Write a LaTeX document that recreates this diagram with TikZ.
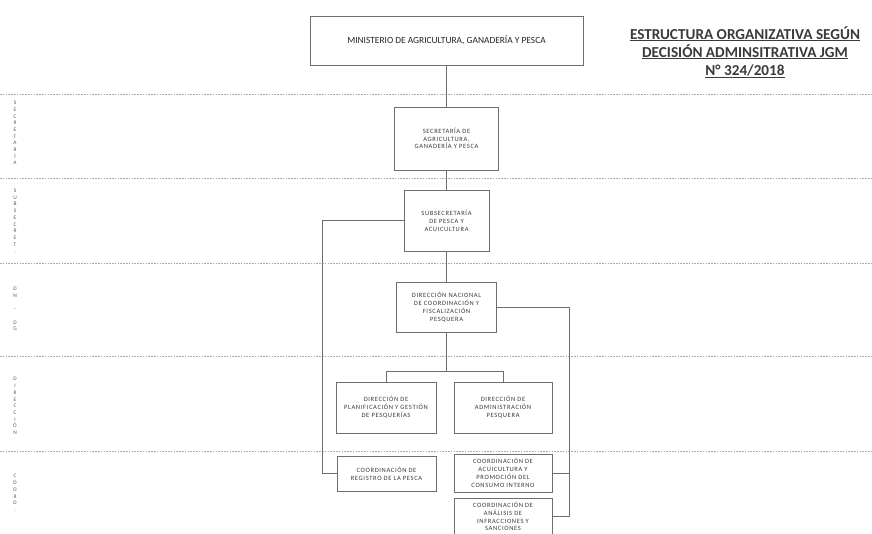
\documentclass[tikz,border=0pt]{standalone}
\usepackage{fontspec}
\setmainfont{Carlito}
\newfontfamily\boxfont[LetterSpace=10]{Carlito}
\definecolor{linegray}{HTML}{6E6E6E}
\definecolor{txtgray}{HTML}{3A3A3A}
\definecolor{sepgray}{HTML}{A8A8A8}
\begin{document}
\begin{tikzpicture}[x=1pt,y=-1pt,
  box/.style={draw=linegray, line width=0.9pt, fill=white, align=center, inner sep=1pt,
     text=txtgray, font=\boxfont\fontsize{6.5}{8.1}\selectfont},
  conn/.style={draw=linegray, line width=0.8pt},
  sepline/.style={draw=sepgray, line width=0.7pt, dash pattern=on 1.6pt off 1.2pt},
  lab/.style={align=center, text=txtgray!85, inner sep=0pt, font=\fontsize{5.4}{6.7}\selectfont}]
\useasboundingbox (0,0) rectangle (872,533);
\clip (0,0) rectangle (872,533);
% separators
\foreach \yy in {94,178,263,356,451} \draw[sepline] (0,\yy) -- (872,\yy);
% side labels
\node[lab] (l1) at (15,133) {S\\E\\C\\R\\E\\T\\A\\R\\Í\\A};
\node[lab] (l2) at (15,221) {S\\U\\B\\S\\E\\C\\R\\E\\T\\.};
\node[lab] (l3) at (15,309) {D\\N\\[6.7pt]-\\[6.7pt]D\\G};
\node[lab] (l4) at (15,406) {D\\I\\R\\E\\C\\C\\I\\Ó\\N};
\node[lab] (l5) at (15,493) {C\\O\\O\\R\\D\\.};
% title
\node[align=center, text=txtgray, font=\bfseries\fontsize{15.2}{18}\selectfont, inner sep=0pt] (title) at (745,52)
  {\underline{ESTRUCTURA ORGANIZATIVA SEGÚN}\\\underline{DECISIÓN ADMINSITRATIVA JGM}\\\underline{N° 324/2018}};
% boxes
\node[box, minimum width=273pt, minimum height=49pt, font=\fontsize{9.4}{11}\selectfont, text=black!85] (min) at (446.5,40.5) {MINISTERIO DE AGRICULTURA, GANADERÍA Y PESCA};
\node[box, minimum width=104pt, minimum height=63pt, font=\boxfont\fontsize{6.5}{7.6}\selectfont] (sec) at (446.5,138.5) {SECRETARÍA DE\\AGRICULTURA,\\GANADERÍA Y PESCA};
\node[box, minimum width=85pt, minimum height=61pt] (sub) at (446.5,220.5) {SUBSECRETARÍA\\DE PESCA Y\\ACUICULTURA};
\node[box, minimum width=100pt, minimum height=50pt] (dn) at (446.5,307) {DIRECCIÓN NACIONAL\\DE COORDINACIÓN Y\\FISCALIZACIÓN\\PESQUERA};
\node[box, minimum width=100pt, minimum height=51pt] (d1) at (386,407.5) {DIRECCIÓN DE\\PLANIFICACIÓN Y GESTIÓN\\DE PESQUERÍAS};
\node[box, minimum width=98pt, minimum height=51pt] (d2) at (503,407.5) {DIRECCIÓN DE\\ADMINISTRACIÓN\\PESQUERA};
\node[box, minimum width=99pt, minimum height=35pt] (reg) at (386.5,473.5) {COORDINACIÓN DE\\REGISTRO DE LA PESCA};
\node[box, minimum width=98pt, minimum height=38pt] (acu) at (503,473) {COORDINACIÓN DE\\ACUICULTURA Y\\PROMOCIÓN DEL\\CONSUMO INTERNO};
\node[box, minimum width=98pt, minimum height=37pt, font=\boxfont\fontsize{6.5}{7.7}\selectfont] (ana) at (503,516.5) {COORDINACIÓN DE\\ANÁLISIS DE\\INFRACCIONES Y\\SANCIONES};
% helper coordinates
\coordinate (lx) at (322,0);
\coordinate (rx) at (569,0);
\coordinate (bus) at (446.5,371);
% connectors
\draw[conn] (min.south) -- (sec.north);
\draw[conn] (sec.south) -- (sub.north);
\draw[conn] (sub.south) -- (dn.north);
\draw[conn] (sub.west) -- (sub.west -| lx) -- (reg.west -| lx) -- (reg.west);
\draw[conn] (dn.east) -- (dn.east -| rx) -- (ana.east -| rx) -- (ana.east);
\draw[conn] (acu.east) -- (acu.east -| rx);
\draw[conn] (dn.south) -- (bus);
\draw[conn] (d1.north) -- (d1.north |- bus) -- (d2.north |- bus) -- (d2.north);
\end{tikzpicture}
\end{document}
